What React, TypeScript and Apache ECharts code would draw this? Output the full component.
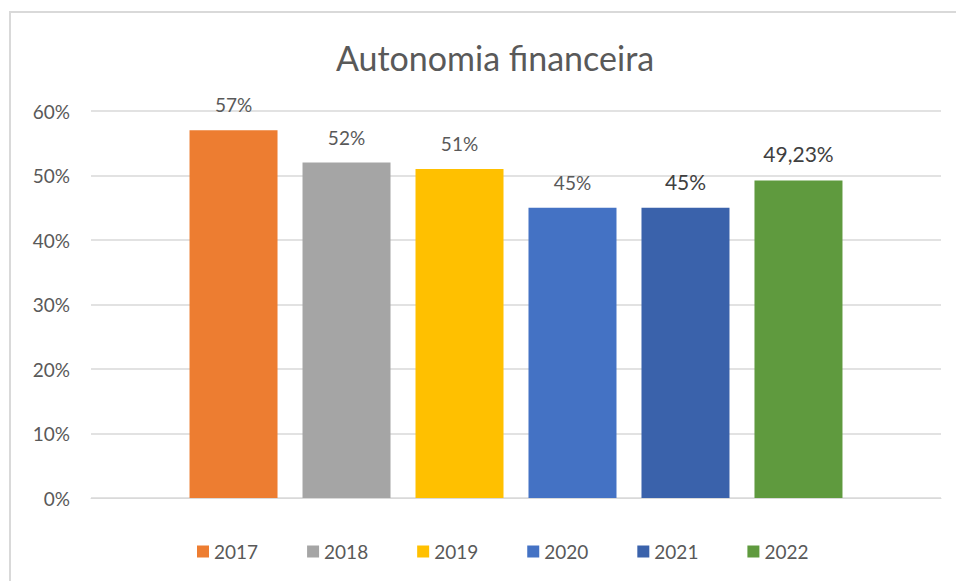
import React, { useEffect, useRef } from "react";
import * as echarts from "echarts";

const years = ["2017", "2018", "2019", "2020", "2021", "2022"];
const values = [0.57, 0.52, 0.51, 0.45, 0.45, 0.4923];
const valueLabels = ["57%", "52%", "51%", "45%", "45%", "49,23%"];
const colors = ["#ED7D31", "#A5A5A5", "#FFC000", "#4472C4", "#3A62AB", "#5F9A3E"];
const labelColors = ["#595959", "#595959", "#595959", "#595959", "#404040", "#404040"];
const labelSizes = [19, 19, 19, 19, 21, 21];
const yTicks = [0, 0.1, 0.2, 0.3, 0.4, 0.5, 0.6];

const FONT = "Lato, 'Open Sans', sans-serif";

export default function App() {
  const ref = useRef<HTMLDivElement>(null);
  useEffect(() => {
    if (!ref.current) return;
    const chart = echarts.init(ref.current, null, { renderer: "svg" });
    chart.setOption({
      animation: false,
      backgroundColor: "#ffffff",
      textStyle: { fontFamily: FONT },
      title: {
        text: "Autonomia financeira",
        left: 490,
        top: 35,
        textAlign: "center",
        textStyle: { fontSize: 34, fontWeight: "normal", color: "#595959", fontFamily: FONT },
      },
      graphic: [
        {
          type: "rect",
          shape: { x: 10, y: 12, width: 1000, height: 700 },
          style: { fill: "none", stroke: "#D9D9D9", lineWidth: 2 },
          silent: true,
        },
      ],
      legend: {
        left: 192,
        top: 537,
        itemWidth: 12,
        itemHeight: 12,
        itemGap: 49,
        icon: "rect",
        textStyle: { fontSize: 19, color: "#595959", fontFamily: FONT },
        data: years,
      },
      grid: { left: 91, right: 15, top: 111, bottom: 83 },
      xAxis: {
        type: "category",
        data: [""],
        axisLine: { show: true, lineStyle: { color: "#D9D9D9", width: 1 } },
        axisTick: { show: false },
        axisLabel: { show: false },
      },
      yAxis: {
        type: "value",
        min: yTicks[0],
        max: yTicks[yTicks.length - 1],
        interval: 0.1,
        axisLine: { show: false },
        axisTick: { show: false },
        splitLine: { lineStyle: { color: "#D9D9D9", width: 1.5 } },
        axisLabel: {
          margin: 21,
          fontSize: 19,
          color: "#595959",
          fontFamily: FONT,
          formatter: (v: number) => Math.round(v * 100) + "%",
        },
      },
      series: years.map((y, i) => ({
        name: y,
        type: "bar",
        data: [values[i]],
        barWidth: 88,
        barGap: "28.4%",
        itemStyle: { color: colors[i] },
        label: {
          show: true,
          position: "top",
          distance: 16,
          formatter: () => valueLabels[i],
          color: labelColors[i],
          fontSize: labelSizes[i],
          fontFamily: FONT,
        },
      })),
    });
    return () => chart.dispose();
  }, []);
  return (
    <div
      ref={ref}
      style={{ position: "fixed", left: 0, top: 0, width: 956, height: 581 }}
    />
  );
}
